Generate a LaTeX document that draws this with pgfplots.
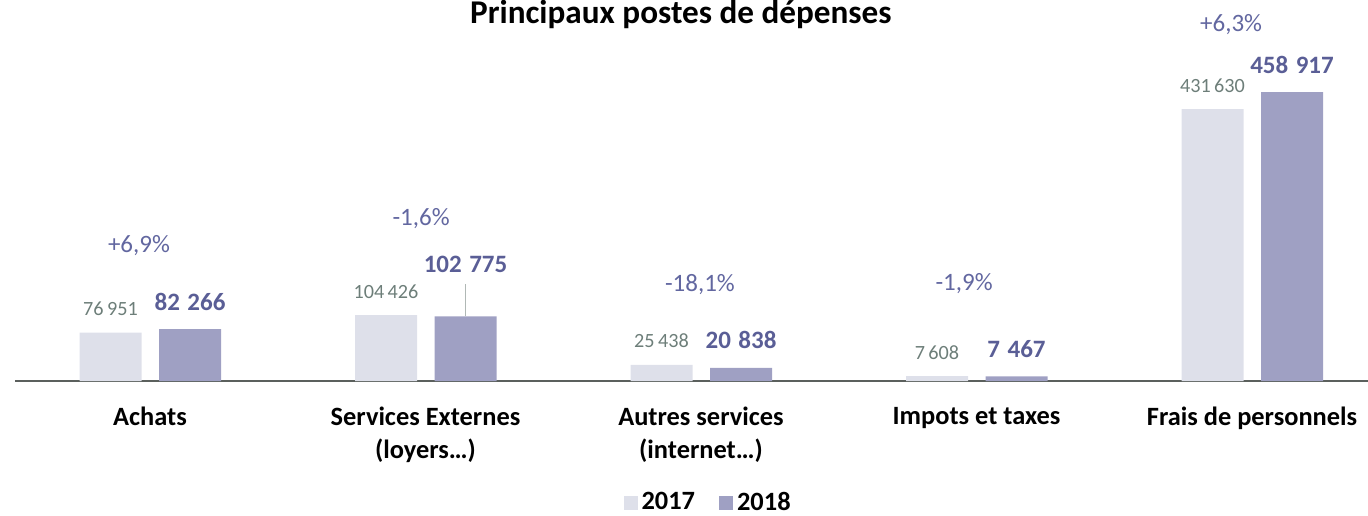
\documentclass[border=0pt]{standalone}
\usepackage{fontspec}
\setmainfont{Carlito}
\usepackage{pgfplots}
\pgfplotsset{compat=1.18}
\usepackage{pgfplotstable}

\definecolor{c17}{HTML}{DEE0EA}
\definecolor{c18}{HTML}{9FA0C3}
\definecolor{l17}{HTML}{6D7E79}
\definecolor{l18}{HTML}{5A5E96}
\definecolor{pc}{HTML}{6267A0}
\definecolor{axc}{HTML}{5B605D}
\definecolor{lead}{HTML}{B0B8B5}

\pgfplotstableread{
x y shift
0 76951 0
1 104426 0
2 25438 0
3 7608 0
4 431630 0
}\dataA
\pgfplotstableread{
x y shift
0 82266 0
1 102775 12.5
2 20838 0
3 7467 0
4 458917 0
}\dataB

\begin{document}
\begin{tikzpicture}
\begin{axis}[
  scale only axis, width=676.5pt, height=190.5pt,
  xmin=-0.49, xmax=4.421, ymin=0, ymax=605000,
  axis x line*=bottom, axis y line=none,
  x axis line style={-, color=axc, line width=1pt},
  xtick={0,1,2,3,4}, major tick length=0pt,
  xticklabels={Achats, {Services Externes\\(loyers…)}, {Autres services\\(internet…)}, Impots et taxes, Frais de personnels},
  xticklabel style={font=\fontsize{13.2}{16.5}\selectfont\bfseries, align=center, anchor=north, yshift=-9.5pt, text=black},
  ytick=\empty,
  clip=false,
  legend style={at={(0.513,-0.319)}, anchor=center, draw=none, fill=none,
    legend columns=2, font=\fontsize{13.2}{15}\selectfont\bfseries,
    nodes={inner ysep=1pt},
    /tikz/every even column/.append style={column sep=10pt}},
  legend image code/.code={\fill[#1, draw=none] (0pt,-3.5pt) rectangle (7pt,3.5pt);},
]
\addplot[ybar, bar width=31pt, bar shift=-19.75pt, fill=c17, draw=none,
  nodes near coords, point meta=y,
  every node near coord/.append style={font=\fontsize{10.1}{12}\selectfont, text=l17, anchor=base, xshift=-19.75pt, yshift=8.5pt,
    /pgf/number format/fixed, /pgf/number format/precision=0,
    /pgf/number format/1000 sep={\,}, /pgf/number format/assume math mode=true}]
  table[x=x, y=y] {\dataA};
\addlegendentry{2017}
\addplot[ybar, bar width=31pt, bar shift=20pt, fill=c18, draw=none,
  nodes near coords, point meta=y,
  visualization depends on={\thisrow{shift}\as\myshift},
  every node near coord/.append style={font=\fontsize{12.5}{15}\selectfont\bfseries, text=l18, anchor=base, xshift=20pt, yshift=9.5pt, yshift=\myshift,
    /pgf/number format/fixed, /pgf/number format/precision=0,
    /pgf/number format/1000 sep={\hspace{0.3em}}, /pgf/number format/assume math mode=true}]
  table[x=x, y=y] {\dataB};
\addlegendentry{2018}

\draw[color=lead, line width=0.6pt] (axis cs:1.145,102775) -- (axis cs:1.145,154000);

\node[font=\fontsize{12.5}{15}\selectfont, text=pc, anchor=base] at (axis cs:-0.04,204850) {+6,9\%};
\node[font=\fontsize{12.5}{15}\selectfont, text=pc, anchor=base] at (axis cs:0.984,247700) {-1,6\%};
\node[font=\fontsize{12.5}{15}\selectfont, text=pc, anchor=base] at (axis cs:1.996,142900) {-18,1\%};
\node[font=\fontsize{12.5}{15}\selectfont, text=pc, anchor=base] at (axis cs:2.955,144500) {-1,9\%};
\node[font=\fontsize{12.5}{15}\selectfont, text=pc, anchor=base] at (axis cs:3.924,554200) {+6,3\%};

\node[font=\fontsize{16.6}{20}\selectfont\bfseries, anchor=base] at (axis cs:1.927,567000) {Principaux postes de dépenses};

\coordinate (bbBL) at (axis cs:-0.5445,-212800);
\coordinate (bbTR) at (axis cs:4.421,605000);
\end{axis}
\pgfresetboundingbox
\useasboundingbox (bbBL) rectangle (bbTR);
\end{tikzpicture}
\end{document}
